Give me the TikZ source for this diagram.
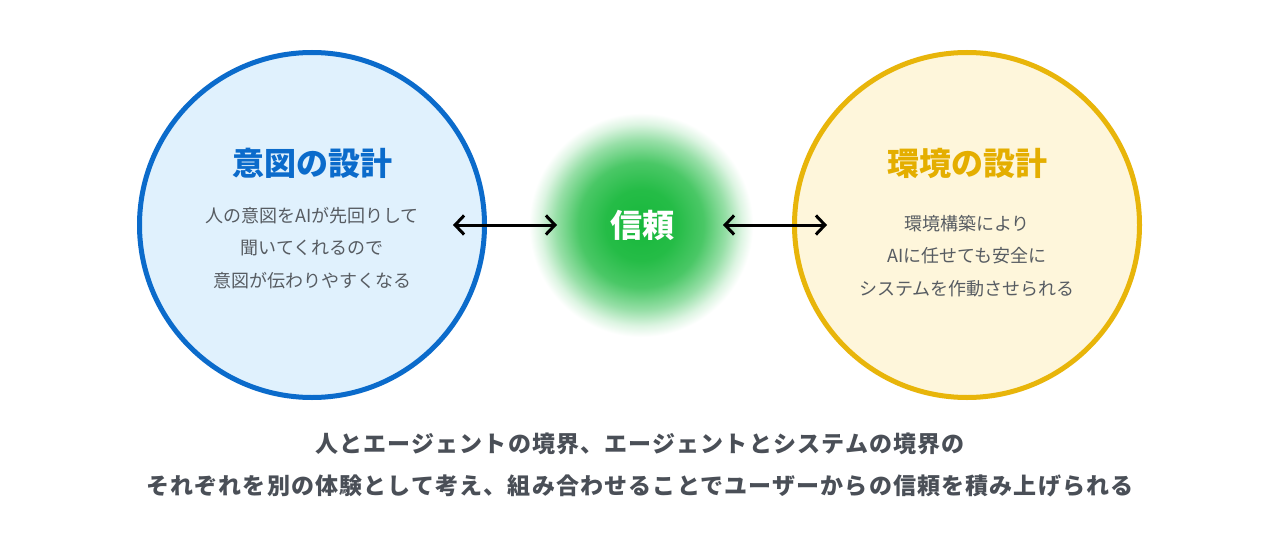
\documentclass[tikz,border=0pt]{standalone}
\usepackage{fontspec}
\setmainfont{Noto Sans CJK JP}
\newfontfamily\heavyfont{Noto Sans CJK JP Black}
\usetikzlibrary{arrows.meta}
\definecolor{bluestroke}{HTML}{0B6BCB}
\definecolor{bluefill}{HTML}{E0F1FD}
\definecolor{yelstroke}{HTML}{E8B50A}
\definecolor{yelfill}{HTML}{FEF6DB}
\definecolor{yeltext}{HTML}{E4AE00}
\definecolor{trustgreen}{HTML}{17B83B}
\definecolor{bodygray}{HTML}{575C62}
\definecolor{capgray}{HTML}{4A4F57}
\pgfdeclareradialshading{glow}{\pgfpoint{0bp}{0bp}}{%
  color(0bp)=(trustgreen);
  color(8bp)=(trustgreen!94!white);
  color(14bp)=(trustgreen!78!white);
  color(19bp)=(trustgreen!45!white);
  color(22.5bp)=(trustgreen!15!white);
  color(25bp)=(white);
  color(50bp)=(white)}
\tikzset{
  bigcircle/.style={circle, line width=5pt, minimum size=345pt, inner sep=0pt},
  titletext/.style={font=\fontsize{32}{36}\selectfont\heavyfont},
  bodytext/.style={align=center, text=bodygray, font=\fontsize{18}{32.5}\selectfont},
  captext/.style={text=capgray, font=\fontsize{23}{26}\selectfont\bfseries\addfontfeature{LetterSpace=5}},
  link/.style={line width=3pt, {Straight Barb[length=9pt,width=19pt]}-{Straight Barb[length=9pt,width=19pt]}}
}
\begin{document}
\begin{tikzpicture}[x=1pt,y=-1pt]
\useasboundingbox[fill=white] (0,0) rectangle (1280,551);
% left circle
\node[bigcircle, draw=bluestroke, fill=bluefill] (intent) at (312,225) {};
\node[titletext, text=bluestroke] (intentTitle) at (312,163) {意図の設計};
\node[bodytext] (intentBody) at (312,248) {人の意図をAIが先回りして\\聞いてくれるので\\意図が伝わりやすくなる};
% right circle
\node[bigcircle, draw=yelstroke, fill=yelfill] (env) at (967,225) {};
\node[titletext, text=yeltext] (envTitle) at (967,163) {環境の設計};
\node[bodytext] (envBody) at (967,256) {環境構築により\\AIに任せても安全に\\システムを作動させられる};
% trust glow
\node[circle, minimum size=224pt, inner sep=0pt, shading=glow] (trust) at (641,225) {};
\node[titletext, text=white] (trustLabel) at (642,225) {信頼};
% arrows
\coordinate (aL1) at (453,225);
\coordinate (aL2) at (557,225);
\coordinate (aR1) at (723,225);
\coordinate (aR2) at (827,225);
\draw[link] (aL1) -- (aL2);
\draw[link] (aR1) -- (aR2);
% caption
\node[captext] (cap1) at (640,444) {人とエージェントの境界、エージェントとシステムの境界の};
\node[captext] (cap2) at (640,486) {それぞれを別の体験として考え、組み合わせることでユーザーからの信頼を積み上げられる};
\end{tikzpicture}
\end{document}
